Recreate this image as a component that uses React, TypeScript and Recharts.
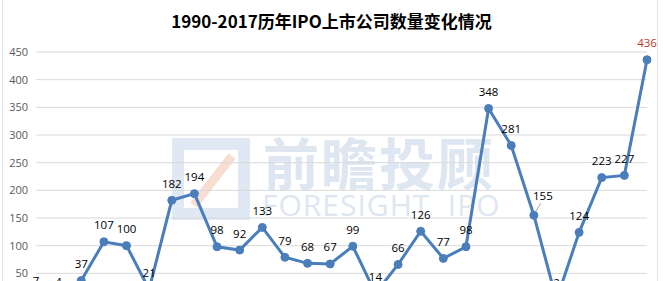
import React from 'react';
import { LineChart, Line, XAxis, YAxis, CartesianGrid, LabelList } from 'recharts';

const years = [
  '1990', '1991', '1992', '1993', '1994', '1995', '1996', '1997', '1998', '1999',
  '2000', '2001', '2002', '2003', '2004', '2005', '2006', '2007', '2008', '2009',
  '2010', '2011', '2012', '2013', '2014', '2015', '2016', '2017',
];
const ipoCounts = [
  7, 4, 37, 107, 100, 21, 182, 194, 98, 92,
  133, 79, 68, 67, 99, 14, 66, 126, 77, 98,
  348, 281, 155, 2, 124, 223, 227, 436,
];
const yTicks = [0, 50, 100, 150, 200, 250, 300, 350, 400, 450];

const data = years.map((year, i) => ({ year, count: ipoCounts[i] }));

const LINE_COLOR = '#4a7ebb';
const FONT = '"Open Sans", "Noto Sans", sans-serif';

const renderLabel = (props: any) => {
  const { x, y, value, index } = props;
  if (x == null || y == null) return null;
  const isLast = index === ipoCounts.length - 1;
  if (index === 22) {
    return (
      <g>
        <line x1={x + 2} y1={y - 4} x2={x + 7} y2={y - 12} stroke="#a6a6a6" strokeWidth={1} />
        <text x={x + 9} y={y - 20} textAnchor="middle" dominantBaseline="central" fill="#000" fontSize={11.5} fontFamily={FONT}>
          {value}
        </text>
      </g>
    );
  }
  return (
    <text
      x={x}
      y={y - 17}
      textAnchor="middle"
      dominantBaseline="central"
      fill={isLast ? '#c0392b' : '#000'}
      fontSize={11.5}
      fontFamily={FONT}
    >
      {value}
    </text>
  );
};

export default function App() {
  return (
    <div
      style={{
        position: 'absolute',
        left: 0,
        top: 0,
        width: 663,
        height: 281,
        overflow: 'hidden',
        background: '#fff',
      }}
    >
      {/* frame lines */}
      <div style={{ position: 'absolute', left: 2, top: 0, width: 1, height: 281, background: '#e3e3e3' }} />
      <div style={{ position: 'absolute', left: 657, top: 0, width: 1, height: 281, background: '#e3e3e3' }} />

      {/* watermark */}
      <div style={{ position: 'absolute', left: 172, top: 138, width: 78, height: 82, zIndex: 0 }}>
        <div
          style={{
            position: 'absolute',
            left: 0,
            top: 0,
            width: 54,
            height: 58,
            border: '12px solid #dfe8f3',
          }}
        />
        <div
          style={{
            position: 'absolute',
            left: 10,
            top: 38,
            width: 62,
            height: 9,
            background: '#f8ddd2',
            transform: 'rotate(-52deg)',
          }}
        />
      </div>
      <div
        style={{
          position: 'absolute',
          left: 263,
          top: 128,
          fontSize: 56,
          fontWeight: 700,
          color: '#dde6f1',
          fontFamily: '"Noto Sans CJK SC", sans-serif',
          letterSpacing: 2,
          lineHeight: '66px',
          whiteSpace: 'nowrap',
          zIndex: 0,
        }}
      >
        前瞻投顾
      </div>
      <div
        style={{
          position: 'absolute',
          left: 262,
          top: 188,
          fontSize: 30,
          color: '#dde6f1',
          fontFamily: FONT,
          letterSpacing: 1,
          lineHeight: '34px',
          whiteSpace: 'nowrap',
          zIndex: 0,
        }}
      >
        FORESIGHT&nbsp;&nbsp;IPO
      </div>

      {/* title */}
      <div
        style={{
          position: 'absolute',
          left: 0,
          top: 9,
          width: 663,
          textAlign: 'center',
          fontSize: 17,
          fontWeight: 700,
          color: '#000',
          fontFamily: '"Noto Sans CJK SC", sans-serif',
          lineHeight: '24px',
          zIndex: 2,
        }}
      >
        1990-2017历年IPO上市公司数量变化情况
      </div>

      <div style={{ position: 'absolute', left: 0, top: 0, zIndex: 1 }}>
        <LineChart width={663} height={330} data={data} margin={{ top: 52, right: 16, left: 0, bottom: 29 }}>
          <CartesianGrid vertical={false} stroke="#d9d9d9" strokeWidth={1} />
          <XAxis dataKey="year" hide />
          <YAxis
            width={36}
            domain={[0, 450]}
            ticks={yTicks}
            axisLine={false}
            tickLine={false}
            tick={{ fontSize: 11, fill: '#595959', fontFamily: FONT }}
            interval={0}
          />
          <Line
            type="linear"
            dataKey="count"
            stroke={LINE_COLOR}
            strokeWidth={3}
            dot={{ r: 4, fill: LINE_COLOR, stroke: LINE_COLOR, strokeWidth: 1 }}
            isAnimationActive={false}
          >
            <LabelList dataKey="count" content={renderLabel} />
          </Line>
        </LineChart>
      </div>
    </div>
  );
}
